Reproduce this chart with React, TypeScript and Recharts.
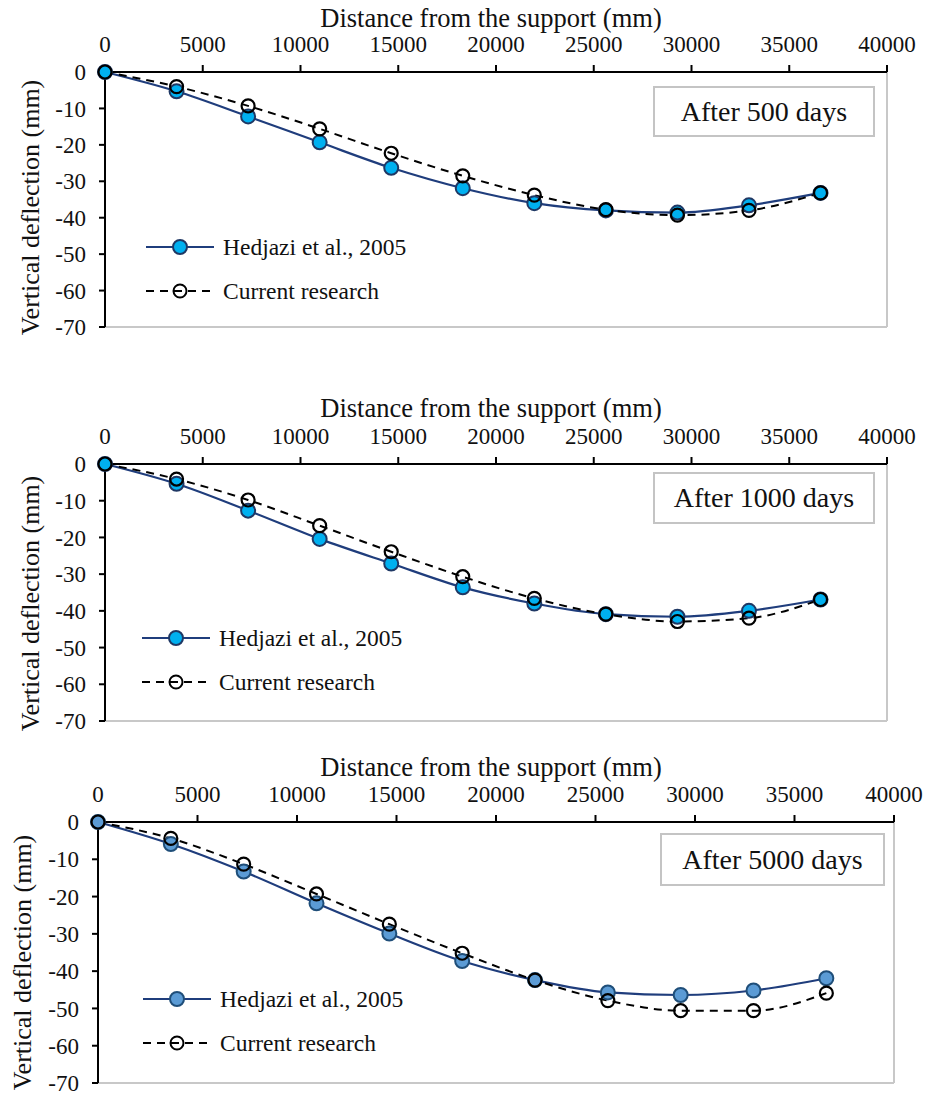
import { Legend, Line, LineChart, ReferenceLine, XAxis, YAxis } from "recharts";

// distance from the support (mm)
const distance = [0, 3660, 7320, 10980, 14640, 18300, 21960, 25620, 29280, 32940, 36600];

// vertical deflection (mm)
const hedjazi500 = [0, -5.3, -12.2, -19.3, -26.3, -31.9, -36.0, -38.0, -38.6, -36.6, -33.2];
const current500 = [0, -4.0, -9.3, -15.6, -22.3, -28.5, -33.8, -37.8, -39.3, -38.0, -33.2];
const hedjazi1000 = [0, -5.4, -12.7, -20.4, -27.1, -33.6, -38.0, -40.9, -41.6, -40.0, -36.9];
const current1000 = [0, -4.1, -9.8, -16.8, -23.9, -30.7, -36.6, -40.9, -42.9, -42.0, -36.9];
const hedjazi5000 = [0, -5.9, -13.3, -21.8, -29.9, -37.3, -42.4, -45.7, -46.4, -45.2, -41.9];
const current5000 = [0, -4.4, -11.3, -19.3, -27.4, -35.2, -42.4, -47.9, -50.6, -50.6, -45.9];

const xTicks = [0, 5000, 10000, 15000, 20000, 25000, 30000, 35000, 40000];
const yTicks = [0, -10, -20, -30, -40, -50, -60, -70];
const legendOrder = ["hedjazi", "current"];

const serif = "Liberation Serif, Tinos, Times New Roman, DejaVu Serif, Noto Serif, serif";
const lineColor = "#1F3D7C";

const buildRows = (hed: number[], cur: number[]) =>
  distance.map((x, i) => ({ x, hedjazi: hed[i], current: cur[i] }));

const renderLegend = (markerFill: string, markerStroke: string) => (props: any) => {
  const items = [...(props.payload || [])].sort(
    (a: any, b: any) => legendOrder.indexOf(a.dataKey) - legendOrder.indexOf(b.dataKey)
  );
  return (
    <div>
      {items.map((entry: any) => {
        const dashed = entry.dataKey === "current";
        return (
          <div key={entry.dataKey} style={{ display: "flex", alignItems: "center", height: 44 }}>
            <svg width={68} height={20}>
              <line
                x1={0}
                x2={68}
                y1={10}
                y2={10}
                stroke={dashed ? "#000" : lineColor}
                strokeWidth={2}
                strokeDasharray={dashed ? "8 6" : undefined}
              />
              <circle
                cx={34}
                cy={10}
                r={dashed ? 6.5 : 7}
                fill={dashed ? "none" : markerFill}
                stroke={dashed ? "#000" : markerStroke}
                strokeWidth={2}
              />
            </svg>
            <span style={{ marginLeft: 9, fontSize: 23.5, fontFamily: serif, color: "#111" }}>{entry.value}</span>
          </div>
        );
      })}
    </div>
  );
};

// rotated y-axis title, placed from the axis view box
const yTitle = (offset: number, shift: number) => (props: any) => {
  const vb = props.viewBox || {};
  const x = (vb.x || 0) + offset;
  const y = (vb.y || 0) + (vb.height || 0) / 2 + shift;
  return (
    <text
      x={x}
      y={y}
      transform={`rotate(-90, ${x}, ${y})`}
      textAnchor="middle"
      dominantBaseline="central"
      fontSize={26}
      fill="#111"
      fontFamily={serif}
    >
      Vertical deflection (mm)
    </text>
  );
};

type PanelProps = {
  top: number;
  height: number;
  plotLeft: number;
  plotRight: number;
  plotTop: number;
  plotBottom: number;
  hed: number[];
  cur: number[];
  markerFill: string;
  markerStroke: string;
  days: string;
  box: { left: number; top: number; width: number; height: number };
  legend: { left: number; top: number };
  yTitleX: number;
  yTitleShift: number;
};

const Panel = (p: PanelProps) => {
  const rows = buildRows(p.hed, p.cur);
  const tickStyle = { fontSize: 23, fill: "#111", fontFamily: serif };
  return (
    <div style={{ position: "absolute", left: 0, top: p.top, width: 928, height: p.height, fontFamily: serif }}>
      <LineChart
        width={928}
        height={p.height}
        data={rows}
        style={{ fontFamily: serif }}
        margin={{ top: 0, right: 928 - p.plotRight, bottom: p.top + p.height - p.plotBottom, left: 0 }}
      >
        <XAxis
          dataKey="x"
          type="number"
          orientation="top"
          domain={[0, 40000]}
          ticks={xTicks}
          interval={0}
          height={p.plotTop - p.top}
          tickSize={7}
          tickMargin={13}
          tick={tickStyle}
          axisLine={{ stroke: "#000", strokeWidth: 2 }}
          tickLine={{ stroke: "#000", strokeWidth: 2 }}
          label={{
            value: "Distance from the support (mm)",
            position: "insideTop",
            offset: 8,
            dx: -5,
            style: { fontSize: 26.5, fill: "#111", fontFamily: serif },
          }}
        />
        <YAxis
          type="number"
          domain={[-70, 0]}
          ticks={yTicks}
          interval={0}
          width={p.plotLeft}
          tickSize={6}
          tickMargin={13}
          tick={tickStyle}
          axisLine={{ stroke: "#000", strokeWidth: 2 }}
          tickLine={{ stroke: "#000", strokeWidth: 2 }}
          label={{ value: "Vertical deflection (mm)", content: yTitle(p.yTitleX, p.yTitleShift) }}
        />
        <ReferenceLine x={40000} stroke="#c8c8c8" strokeWidth={2} />
        <ReferenceLine y={-70} stroke="#c8c8c8" strokeWidth={2} />
        <Legend
          layout="vertical"
          align="center"
          verticalAlign="middle"
          wrapperStyle={{ left: p.legend.left, top: p.legend.top, width: 320 }}
          content={renderLegend(p.markerFill, p.markerStroke)}
        />
        <Line
          type="monotone"
          dataKey="hedjazi"
          name="Hedjazi et al., 2005"
          stroke={lineColor}
          strokeWidth={2.2}
          dot={{ r: 7, fill: p.markerFill, stroke: p.markerStroke, strokeWidth: 2 }}
          isAnimationActive={false}
        />
        <Line
          type="monotone"
          dataKey="current"
          name="Current research"
          stroke="#000"
          strokeWidth={2}
          strokeDasharray="8 6"
          dot={{ r: 6.5, fill: "none", stroke: "#000", strokeWidth: 2.2, strokeDasharray: "0" }}
          isAnimationActive={false}
        />
      </LineChart>
      <div
        style={{
          position: "absolute",
          left: p.box.left,
          top: p.box.top - p.top,
          width: p.box.width,
          height: p.box.height,
          boxSizing: "border-box",
          border: "2px solid #c4c4c4",
          background: "#fff",
          display: "flex",
          alignItems: "center",
          justifyContent: "center",
          fontFamily: serif,
          fontSize: 28,
          color: "#111",
        }}
      >
        {p.days}
      </div>
    </div>
  );
};

export default function App() {
  return (
    <div style={{ position: "absolute", left: 0, top: 0, width: 928, height: 1095, background: "#fff" }}>
      <Panel
        top={0}
        height={345}
        plotLeft={105}
        plotRight={887}
        plotTop={72}
        plotBottom={327}
        hed={hedjazi500}
        cur={current500}
        markerFill="#00B0F0"
        markerStroke="#1F3864"
        days="After 500 days"
        box={{ left: 653, top: 86, width: 222, height: 51 }}
        legend={{ left: 146, top: 225 }}
        yTitleX={30}
        yTitleShift={8}
      />
      <Panel
        top={390}
        height={350}
        plotLeft={105}
        plotRight={887}
        plotTop={464}
        plotBottom={721}
        hed={hedjazi1000}
        cur={current1000}
        markerFill="#00B0F0"
        markerStroke="#1F3864"
        days="After 1000 days"
        box={{ left: 653, top: 472, width: 222, height: 52 }}
        legend={{ left: 142, top: 226 }}
        yTitleX={30}
        yTitleShift={11}
      />
      <Panel
        top={749}
        height={346}
        plotLeft={98}
        plotRight={894}
        plotTop={822}
        plotBottom={1083}
        hed={hedjazi5000}
        cur={current5000}
        markerFill="#5B9BD5"
        markerStroke="#1F4E79"
        days="After 5000 days"
        box={{ left: 660, top: 833, width: 225, height: 53 }}
        legend={{ left: 143, top: 228 }}
        yTitleX={22}
        yTitleShift={10}
      />
    </div>
  );
}
